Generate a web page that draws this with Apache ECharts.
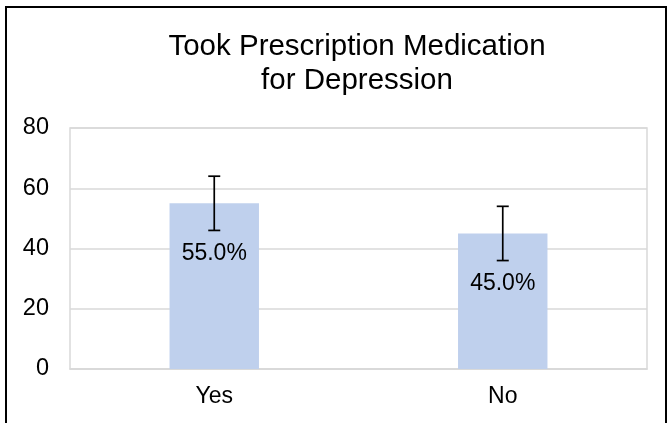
<!DOCTYPE html>
<html>
<head>
<meta charset="utf-8">
<script src="https://cdn.jsdelivr.net/npm/echarts@6/dist/echarts.min.js"></script>
<style>
html,body{margin:0;padding:0;background:#fff;}
#chart{width:672px;height:423px;}
</style>
</head>
<body>
<div id="chart"></div>
<script>
var categories = ['Yes', 'No'];
var values = [55.0, 45.0];
var errLow = [46, 36];
var errHigh = [64, 54];
var yTicks = [0, 20, 40, 60, 80];

var FONT = '"Liberation Sans", Arial, sans-serif';
var chart = echarts.init(document.getElementById('chart'), null, {renderer: 'canvas'});

var errData = categories.map(function (c, i) { return [i, errLow[i], errHigh[i]]; });

chart.setOption({
  animation: false,
  backgroundColor: '#fff',
  title: {
    text: 'Took Prescription Medication\nfor Depression',
    left: 352,
    top: 25,
    textAlign: 'center',
    textStyle: {fontFamily: FONT, fontSize: 29.5, fontWeight: 'normal', color: '#000', lineHeight: 34}
  },
  graphic: [{
    type: 'rect',
    shape: {x: 6, y: 7, width: 660, height: 440},
    style: {fill: 'none', stroke: '#000', lineWidth: 2},
    silent: true,
    z: 100
  }],
  grid: {left: 70, right: 25, top: 128, bottom: 54, show: true, borderColor: '#d9d9d9', borderWidth: 1.5},
  xAxis: {
    type: 'category',
    data: categories,
    axisTick: {show: false},
    axisLine: {lineStyle: {color: '#d9d9d9', width: 1.5}},
    axisLabel: {fontFamily: FONT, fontSize: 23, color: '#000', margin: 16}
  },
  yAxis: {
    type: 'value',
    min: yTicks[0],
    max: yTicks[yTicks.length - 1],
    interval: yTicks[1] - yTicks[0],
    axisLine: {show: false},
    axisTick: {show: false},
    splitLine: {lineStyle: {color: '#d9d9d9', width: 1.5}},
    axisLabel: {fontFamily: FONT, fontSize: 23.5, color: '#000', margin: 21}
  },
  series: [{
    type: 'bar',
    data: values,
    barWidth: '31%',
    itemStyle: {color: '#bfd0ed'},
    label: {
      show: true,
      position: 'insideTop',
      distance: 39,
      fontFamily: FONT,
      fontSize: 23,
      color: '#000',
      formatter: function (p) { return p.value.toFixed(1) + '%'; }
    },
    z: 2
  }, {
    type: 'custom',
    data: errData,
    z: 10,
    renderItem: function (params, api) {
      var x = api.value(0);
      var lo = api.coord([x, api.value(1)]);
      var hi = api.coord([x, api.value(2)]);
      var hw = 6;
      var st = {stroke: '#000', lineWidth: 1.7};
      return {
        type: 'group',
        children: [
          {type: 'line', shape: {x1: lo[0], y1: lo[1], x2: hi[0], y2: hi[1]}, style: st},
          {type: 'line', shape: {x1: lo[0] - hw, y1: lo[1], x2: lo[0] + hw, y2: lo[1]}, style: st},
          {type: 'line', shape: {x1: hi[0] - hw, y1: hi[1], x2: hi[0] + hw, y2: hi[1]}, style: st}
        ]
      };
    }
  }]
});
</script>
</body>
</html>
